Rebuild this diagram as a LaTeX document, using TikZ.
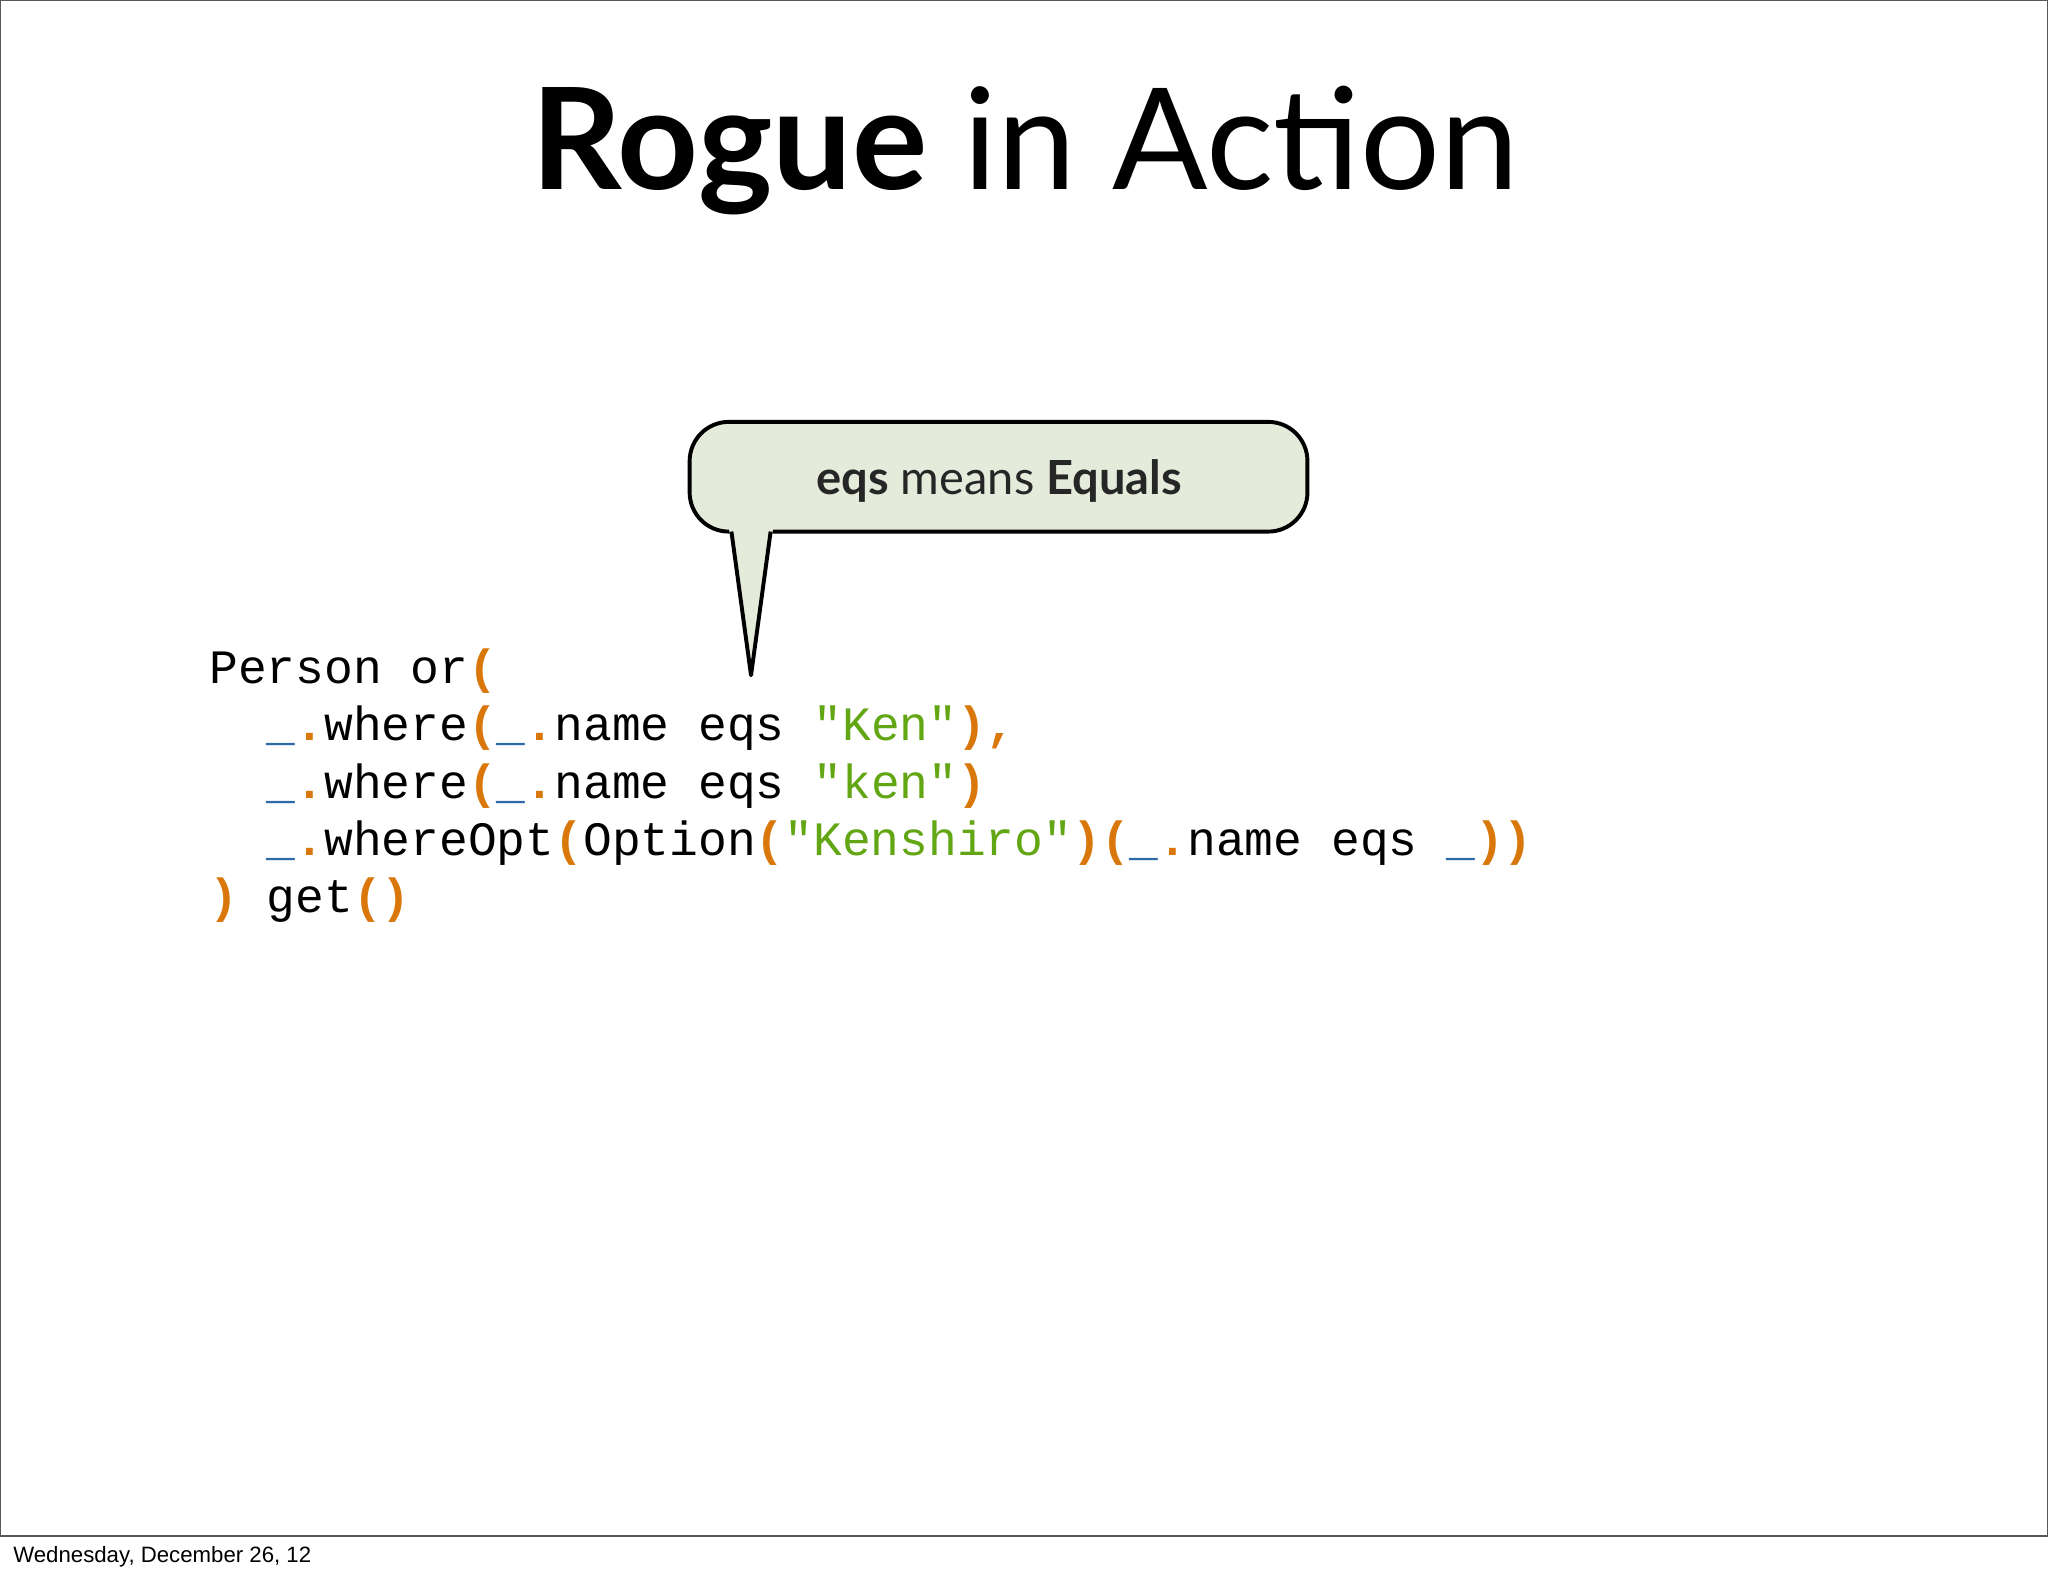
\documentclass[tikz,border=0pt]{standalone}
\usepackage{fontspec}
\setmainfont{Lato}
\setmonofont{Liberation Mono}
\newfontfamily\footfont{Liberation Sans}
\definecolor{orng}{HTML}{D9770B}
\definecolor{blu}{HTML}{2D6BA8}
\definecolor{grn}{HTML}{62A614}
\definecolor{callfill}{HTML}{E4EBDA}
\newcommand\cO[1]{\textcolor{orng}{\textbf{#1}}}
\newcommand\cB[1]{\textcolor{blu}{\textbf{#1}}}
\newcommand\cG[1]{\textcolor{grn}{#1}}
\tikzset{codeline/.style={anchor=base west,inner sep=0pt,font=\fontsize{36.7}{44}\selectfont\ttfamily}}
\begin{document}
\begin{tikzpicture}[x=1pt,y=-1pt]
\useasboundingbox (0,0) rectangle (1568,1207);
\fill[white] (0,0) rectangle (1568,1207);
\draw[gray!70!black,line width=1.2pt] (0.5,0.5) rectangle (1567.5,1176);
\node[anchor=base,inner sep=0pt,font=\fontsize{108}{120}\selectfont] (title) at (785,145) {\textbf{Rogue} in Action};
\draw[line width=3pt,fill=callfill,rounded corners=30pt] (528,323) rectangle (1001,407);
\fill[callfill] (558,404) -- (575,517) -- (592,404) -- cycle;
\draw[line width=3pt,line join=round] (560,407) -- (575,517) -- (590,407);
\node[inner sep=0pt,font=\fontsize{36}{40}\selectfont,text=black!85] (call) at (765,368) {\textbf{eqs} means \textbf{Equals}};
\node[codeline] (l1) at (160,523) {Person or\cO{(}};
\node[codeline] (l2) at (160,567) {\phantom{xx}\cB{\_}\cO{.}where\cO{(}\cB{\_}\cO{.}name eqs \cG{"Ken"}\cO{),}};
\node[codeline] (l3) at (160,611) {\phantom{xx}\cB{\_}\cO{.}where\cO{(}\cB{\_}\cO{.}name eqs \cG{"ken"}\cO{)}};
\node[codeline] (l4) at (160,655) {\phantom{xx}\cB{\_}\cO{.}whereOpt\cO{(}Option\cO{(}\cG{"Kenshiro"}\cO{)(}\cB{\_}\cO{.}name eqs \cB{\_}\cO{))}};
\node[codeline] (l5) at (160,699) {\cO{)} get\cO{()}};
\node[anchor=base west,inner sep=0pt,font=\footfont\fontsize{17}{20}\selectfont] (foot) at (10,1196) {Wednesday, December 26, 12};
\end{tikzpicture}
\end{document}
